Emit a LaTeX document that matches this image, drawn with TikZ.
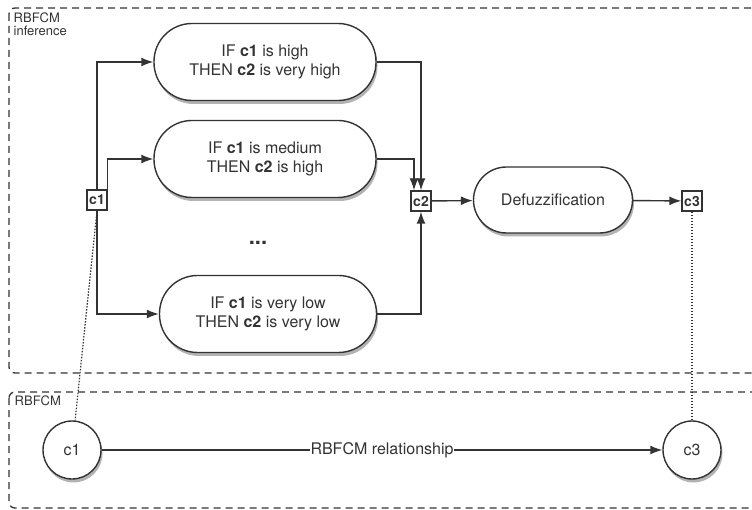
\documentclass[tikz,border=0pt]{standalone}
\usepackage{fontspec}
\setmainfont{TeX Gyre Heros}
\usetikzlibrary{shadows,arrows.meta}
\definecolor{ink}{HTML}{333333}

\begin{document}
\begin{tikzpicture}[x=1pt,y=-1pt,line width=1.4pt,
  rule/.style={draw=ink,fill=white,rounded corners=38pt,minimum width=222pt,minimum height=77pt,
    align=center,font=\fontsize{16}{19}\selectfont,text=ink,
    drop shadow={shadow xshift=1.5pt,shadow yshift=-3.5pt,opacity=0.6}},
  var/.style={draw=ink,fill=white,inner sep=1.5pt,minimum size=20pt,text=ink,
    font=\bfseries\fontsize{14}{14}\selectfont},
  concept/.style={circle,draw=ink,fill=white,minimum size=58pt,text=ink,
    font=\fontsize{16}{16}\selectfont,
    drop shadow={shadow xshift=1.5pt,shadow yshift=-3.5pt,opacity=0.6}},
  frame/.style={draw=ink,line width=1.3pt,dash pattern=on 7pt off 5pt,rounded corners=6pt},
  link/.style={draw=ink,-{Latex[length=12pt,width=9pt]}},
  trace/.style={draw=ink,line width=1.2pt,dash pattern=on 1.5pt off 1.5pt}]
\useasboundingbox (0,0) rectangle (752,510);
\clip (0,0) rectangle (752,510);

% frames
\draw[frame] (9,8) rectangle (790,373);
\draw[frame] (9,392) rectangle (790,508);
\node[anchor=north west,align=left,inner sep=0pt,text=ink,font=\fontsize{13}{13}\selectfont] (lblinf) at (13,12) {RBFCM\\inference};
\node[anchor=north west,inner sep=0pt,text=ink,font=\fontsize{13}{13}\selectfont] (lblmap) at (14,395) {RBFCM};

% rules
\node[rule] (r1) at (265,62) {IF \textbf{c1} is high\\THEN \textbf{c2} is very high};
\node[rule] (r2) at (265,159) {IF \textbf{c1} is medium\\THEN \textbf{c2} is high};
\node[rule,minimum width=217pt] (r3) at (268,314) {IF \textbf{c1} is very low\\THEN \textbf{c2} is very low};
\node[text=ink,font=\bfseries\fontsize{22}{22}\selectfont] (dots) at (258,243) {...};
\node[rule,minimum width=159pt,minimum height=66pt,rounded corners=33pt] (defuzz) at (553,200) {Defuzzification};

% variables
\node[var] (c1) at (97,200) {c1};
\node[var] (c2) at (421,201) {c2};
\node[var] (c3) at (692,201) {c3};

% map concepts
\node[concept] (cc1) at (72,450) {c1};
\node[concept] (cc3) at (692,450) {c3};

% connectors
\draw[link] (c1.north) |- (r1.west);
\draw[link] (c1.north east) |- (r2.west);
\draw[link] (c1.south) |- (r3.west);
\draw[link] (r1.east) -| (c2.north);
\draw[link] (r2.east) -| ([xshift=-7pt]c2.north);
\draw[link] (r3.east) -| (c2.south);
\draw[link] (c2) -- (defuzz);
\draw[link] (defuzz) -- (c3);
\draw[trace] (c1.south) -- (cc1.84);
\draw[trace] (c3.south) -- (cc3.north);
\draw[link] (cc1) -- node[fill=white,inner sep=1pt,text=ink,font=\fontsize{16}{16}\selectfont] {RBFCM relationship} (cc3);
\end{tikzpicture}
\end{document}
